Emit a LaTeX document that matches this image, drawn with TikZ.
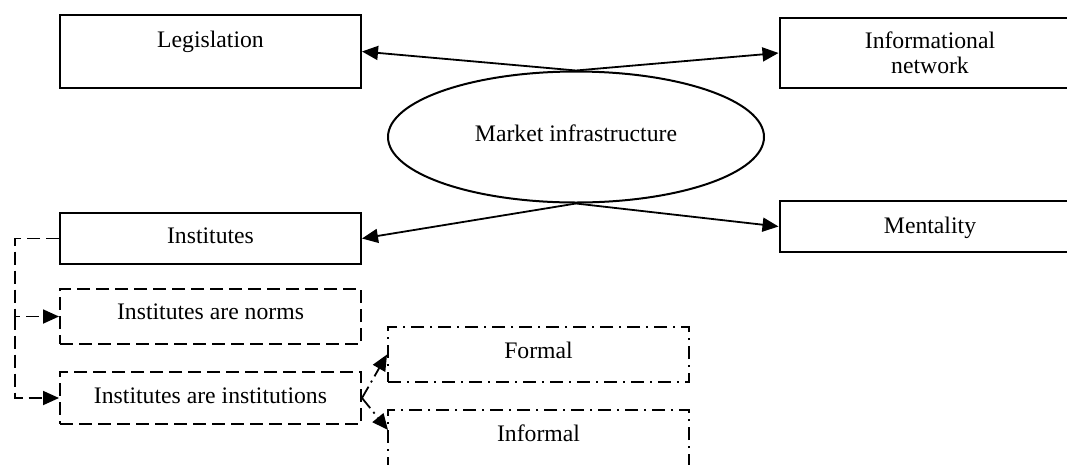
\documentclass[tikz,border=0pt]{standalone}
\usepackage{fontspec}
\setmainfont{Liberation Serif}
\usetikzlibrary{shapes.geometric,arrows.meta}
\begin{document}
\begin{tikzpicture}[x=1pt,y=-1pt,
  font=\fontsize{23.7}{25}\selectfont,
  box/.style={draw, line width=2pt, rectangle, inner sep=0pt, minimum width=301pt},
  dbox/.style={box, dash pattern=on 13pt off 6pt},
  ddbox/.style={box, dash pattern=on 13pt off 6pt on 2pt off 6pt},
  txt/.style={anchor=base, inner sep=0pt},
  tip/.style={-{Triangle[length=16pt,width=14pt]}},
  conn/.style={tip, line width=1.8pt},
  dconn/.style={tip, line width=1.8pt, dash pattern=on 13pt off 6pt},
  ddconn/.style={tip, line width=1.8pt, dash pattern=on 13pt off 5pt on 2pt off 5pt}]
\clip (0,0) rectangle (1067,464);
\fill[white] (0,0) rectangle (1067,464);
% boxes
\node[box, minimum height=73pt] (leg) at (210.5,51.5) {};
\node[txt] (legt) at (210.5,47) {Legislation};
\node[box, minimum height=70pt] (info) at (930,53) {};
\node[txt, align=center] (infot) at (930,73) {Informational\\[0pt]network};
\node[draw, ellipse, line width=2pt, minimum width=376pt, minimum height=131pt, inner sep=0pt] (mkt) at (576,137) {};
\node[txt] (mktt) at (576,141) {Market infrastructure};
\node[box, minimum height=51pt] (inst) at (210.5,238.5) {};
\node[txt] (instt) at (210.5,243) {Institutes};
\node[box, minimum height=51pt] (ment) at (930,226.5) {};
\node[txt] (mentt) at (930,233) {Mentality};
\node[dbox, minimum height=55pt] (norm) at (210.5,316.5) {};
\node[txt] (normt) at (210.5,319) {Institutes are norms};
\node[dbox, minimum height=52pt] (instn) at (210.5,398) {};
\node[txt] (instnt) at (210.5,403) {Institutes are institutions};
\node[ddbox, minimum height=55pt] (form) at (538.5,354.5) {};
\node[txt] (formt) at (538.5,358) {Formal};
\node[ddbox, minimum height=80pt] (inf) at (538.5,450) {};
\node[txt] (inft) at (538.5,441) {Informal};
% connectors
\coordinate (infa) at (388,430);
\draw[conn] (mkt.north) -- (leg.east);
\draw[conn] (mkt.north) -- (info.west);
\draw[conn] (mkt.south) -- (inst.east);
\draw[conn] (mkt.south) -- (ment.west);
\coordinate (c1) at (15,238.5);
\coordinate (c2) at (15,316.5);
\draw[dconn] (inst.west) -- (c1) -- (c2) -- (norm.west);
\draw[dconn] (c2) |- (instn.west);
\draw[ddconn] (instn.east) -- (form.west);
\draw[ddconn] (instn.east) -- (infa);
\end{tikzpicture}
\end{document}
